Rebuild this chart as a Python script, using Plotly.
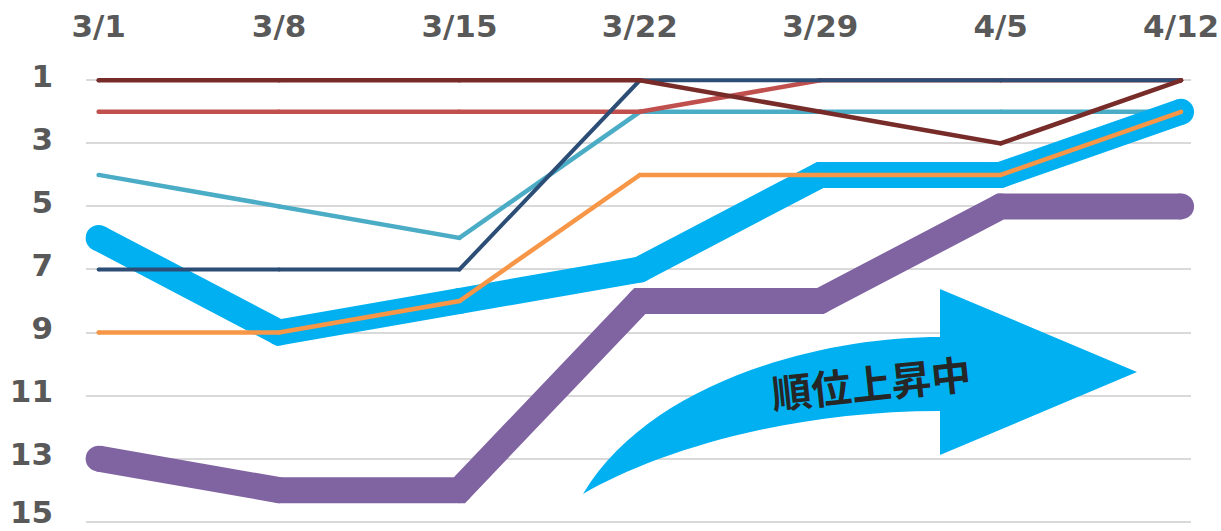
import plotly.graph_objects as go

# ---- data ----
weeks = ["3/1", "3/8", "3/15", "3/22", "3/29", "4/5", "4/12"]
rank_purple = [13, 14, 14, 8, 8, 5, 5]
rank_teal = [4, 5, 6, 2, 2, 2, 2]
rank_blue = [6, 9, 8, 7, 4, 4, 2]
rank_orange = [9, 9, 8, 4, 4, 4, 2]
rank_red = [2, 2, 2, 2, 1, 1, 1]
rank_navy = [7, 7, 7, 1, 1, 1, 1]
rank_maroon = [1, 1, 1, 1, 2, 3, 1]
y_ticks = [1, 3, 5, 7, 9, 11, 13, 15]
y_ticklabels = [str(v) for v in y_ticks]
arrow_label = "順位上昇中"

W, H = 1221, 531
ML, MR, MT, MB = 86, 30, 74, 3

series = [
    (rank_purple, "#8064A2", 26),
    (rank_teal, "#4BACC6", 4.5),
    (rank_blue, "#00B0F0", 26),
    (rank_orange, "#F79646", 4.5),
    (rank_red, "#C0504D", 4.5),
    (rank_navy, "#2C4D75", 4),
    (rank_maroon, "#772C2A", 4.5),
]

fig = go.Figure()
for vals, col, w in series:
    fig.add_trace(go.Scatter(
        x=weeks, y=vals, mode="lines+markers",
        line=dict(color=col, width=w),
        marker=dict(color=col, size=w, line=dict(width=0)),
        hoverinfo="skip", showlegend=False, cliponaxis=False,
    ))

pw, ph = W - ML - MR, H - MT - MB


def P(px, py):
    return (px - ML) / pw, (H - MB - py) / ph


def pt(px, py):
    x, y = P(px, py)
    return f"{x:.5f},{y:.5f}"


path = (
    "M " + pt(940, 337)
    + " L " + pt(940, 289)
    + " L " + pt(1137, 372)
    + " L " + pt(940, 455)
    + " L " + pt(940, 411)
    + " C " + pt(780, 411) + " " + pt(650, 455) + " " + pt(583, 494)
    + " C " + pt(650, 382) + " " + pt(820, 337) + " " + pt(940, 337)
    + " Z"
)
fig.add_shape(type="path", path=path, xref="paper", yref="paper",
              fillcolor="#00B0F0", line=dict(width=0), layer="above")

tx, ty = P(871, 382)
fig.add_annotation(x=tx, y=ty, xref="paper", yref="paper", text=arrow_label,
                   xanchor="center", yanchor="middle",
                   showarrow=False, textangle=-6,
                   font=dict(family="Noto Sans CJK JP", size=40, color="#262626", weight="bold"))

tick_font = dict(family="DejaVu Sans", size=31, color="#595959", weight="bold")

# the bottom tick label is written as an annotation so that it stays inside the page
shown_ticktext = y_ticklabels[:-1] + [""]
lx, ly = P(54, H)
fig.add_annotation(x=lx, y=ly, xref="paper", yref="paper", text=y_ticklabels[-1],
                   xanchor="right", yanchor="bottom", showarrow=False,
                   borderpad=0, font=tick_font)

fig.update_layout(
    width=W, height=H,
    margin=dict(l=ML, r=MR, t=MT, b=MB, autoexpand=False),
    paper_bgcolor="white", plot_bgcolor="white",
    xaxis=dict(side="top", type="category", range=[-0.07, 6.055],
               showgrid=False, zeroline=False, showline=False, ticks="",
               automargin=False,
               tickfont=tick_font, ticklabelstandoff=30, fixedrange=True),
    yaxis=dict(range=[15.2, 0.8], tickvals=y_ticks, ticktext=shown_ticktext,
               showgrid=True, gridcolor="#D9D9D9", gridwidth=1.6,
               zeroline=False, showline=False, ticks="", automargin=False,
               ticklabeloverflow="allow", ticklabelshift=4,
               tickfont=tick_font, ticklabelstandoff=32, fixedrange=True),
)

fig.write_html("out.html", config={"displayModeBar": False},
               post_script="document.body.style.margin='0';")
